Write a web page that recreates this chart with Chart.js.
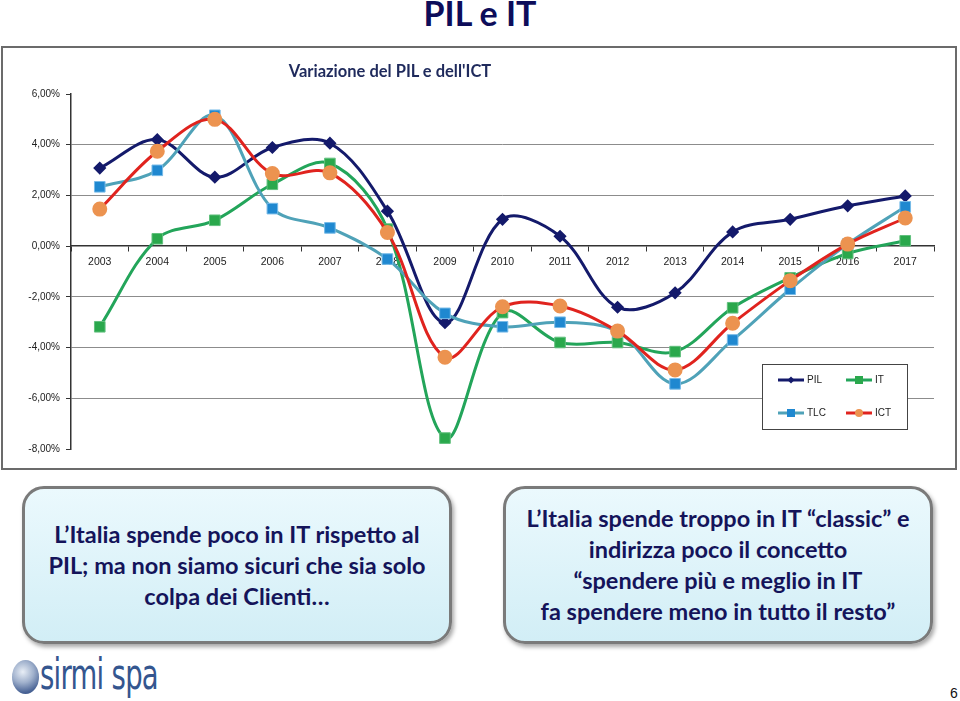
<!DOCTYPE html>
<html>
<head>
<meta charset="utf-8">
<script src="https://cdn.jsdelivr.net/npm/chart.js@4"></script>
<style>
  body { margin: 0; width: 960px; height: 701px; background: #fff; overflow: hidden; position: relative; }
  #pageTitle { position: absolute; left: 0; top: -4px; width: 960px; text-align: center;
    font: bold 34px Lato, sans-serif; line-height: 34px; color: #0d0d5a; }
  #frame { position: absolute; left: 1px; top: 46px; width: 956px; height: 424px; box-sizing: border-box;
    border: 2px solid #6b6b6b; }
  #chartWrap { position: absolute; left: 0; top: 46px; width: 958px; height: 424px; }
  #chartTitle { position: absolute; left: 0; top: 61px; width: 780px; text-align: center;
    font: bold 16.5px Lato, sans-serif; color: #1f2a5c; }
  .box { position: absolute; top: 486px; width: 430px; height: 158px; box-sizing: border-box;
    border: 3px solid #7a7a7a; border-radius: 22px;
    background: linear-gradient(#ebf9fd, #d2eef6);
    box-shadow: 2px 3px 4px rgba(0,0,0,.35);
    display: flex; align-items: center; justify-content: center; text-align: center;
    font: bold 23.5px Lato, sans-serif; line-height: 31px; color: #14145a; white-space: nowrap; }
  #logoIcon { position: absolute; left: 12px; top: 660px; width: 27px; height: 34px; border-radius: 50%;
    background: radial-gradient(circle at 40% 35%, #e8eef6 0%, #9fb0cc 40%, #4a6496 75%, #2f4a7e 100%); }
  #logoText { position: absolute; left: 40px; top: 650px; font: 42px 'Liberation Sans Narrow', 'DejaVu Sans Condensed', sans-serif;
    color: #34568f; transform-origin: 0 0; white-space: nowrap; letter-spacing: -1px; }
  #pageNum { position: absolute; left: 950px; top: 685px; font: 14px 'Liberation Sans', sans-serif; color: #111; }
</style>
</head>
<body>
<div id="pageTitle">PIL e IT</div>
<div id="frame"></div>
<div id="chartWrap"><canvas id="myChart"></canvas></div>
<div id="chartTitle">Variazione del PIL e dell'ICT</div>

<div class="box" style="left:22px">
  <div>L’Italia spende poco in IT rispetto al<br>PIL; ma non siamo sicuri che sia solo<br>colpa dei Clienti…</div>
</div>
<div class="box" style="left:503px">
  <div>L’Italia spende troppo in IT “classic” e<br>indirizza poco il concetto<br>“spendere più e meglio in IT<br>fa spendere meno in tutto il resto”</div>
</div>

<div id="logoIcon"></div>
<div id="logoText">sirmi spa</div>
<div id="pageNum">6</div>

<script>
// data (percent change per year)
const years = ['2003','2004','2005','2006','2007','2008','2009','2010','2011','2012','2013','2014','2015','2016','2017'];
const pil = [3.08, 4.2, 2.72, 3.89, 4.06, 1.38, -3.02, 1.06, 0.39, -2.41, -1.84, 0.56, 1.06, 1.59, 1.98];
const it  = [-3.18, 0.29, 1.02, 2.44, 3.26, 0.67, -7.57, -2.62, -3.8, -3.8, -4.16, -2.43, -1.25, -0.29, 0.21];
const tlc = [2.34, 2.99, 5.16, 1.48, 0.72, -0.51, -2.65, -3.18, -3.0, -3.37, -5.43, -3.7, -1.7, 0.08, 1.55];
const ict = [1.46, 3.74, 5.0, 2.86, 2.89, 0.54, -4.38, -2.39, -2.36, -3.35, -4.88, -3.04, -1.36, 0.08, 1.11];

const yMin = -8, yMax = 6, yStep = 2;

// fit logo text width
const lt = document.getElementById('logoText');
lt.style.transform = 'scaleX(' + (118 / lt.getBoundingClientRect().width) + ')';

// legend drawn inside the plot, 2x2 like the original
const boxLegend = {
  id: 'boxLegend',
  afterDraw(chart) {
    const ctx = chart.ctx;
    const x0 = 762, y0 = 318, w = 145, h = 65;
    ctx.save();
    ctx.fillStyle = '#fff';
    ctx.fillRect(x0, y0, w, h);
    ctx.strokeStyle = '#444';
    ctx.lineWidth = 1;
    ctx.strokeRect(x0 + 0.5, y0 + 0.5, w, h);
    const slots = [[x0 + 16, y0 + 16], [x0 + 84, y0 + 16], [x0 + 16, y0 + 49], [x0 + 84, y0 + 49]];
    chart.data.datasets.forEach((ds, i) => {
      const [sx, sy] = slots[i];
      ctx.strokeStyle = ds.borderColor;
      ctx.lineWidth = 3;
      ctx.beginPath();
      ctx.moveTo(sx, sy);
      ctx.lineTo(sx + 26, sy);
      ctx.stroke();
      const cx = sx + 13;
      ctx.fillStyle = ds.pointBackgroundColor;
      ctx.beginPath();
      if (ds.pointStyle === 'rectRot') {
        ctx.moveTo(cx, sy - 3.5); ctx.lineTo(cx + 3.5, sy); ctx.lineTo(cx, sy + 3.5); ctx.lineTo(cx - 3.5, sy);
        ctx.closePath();
      } else if (ds.pointStyle === 'circle') {
        ctx.arc(cx, sy, 4, 0, Math.PI * 2);
      } else {
        ctx.rect(cx - 4, sy - 4, 8, 8);
      }
      ctx.fill();
      ctx.fillStyle = '#222';
      ctx.font = '10px "Liberation Sans", sans-serif';
      ctx.textBaseline = 'middle';
      ctx.fillText(ds.label, sx + 29, sy + 0.5);
    });
    ctx.restore();
  }
};

const data = {
  labels: years,
  datasets: [
    { label: 'PIL', data: pil, order: 4,
      borderColor: '#141a6b', borderWidth: 3,
      pointStyle: 'rectRot', pointRadius: 4.5,
      pointBackgroundColor: '#141a6b', pointBorderColor: '#141a6b' },
    { label: 'IT', data: it, order: 3,
      borderColor: '#23a55a', borderWidth: 3,
      pointStyle: 'rect', pointRadius: 7.5,
      pointBackgroundColor: '#2aa84c', pointBorderColor: '#62c07e', pointBorderWidth: 1 },
    { label: 'TLC', data: tlc, order: 2,
      borderColor: '#4fa2b8', borderWidth: 3,
      pointStyle: 'rect', pointRadius: 7.5,
      pointBackgroundColor: '#1f88d0', pointBorderColor: '#77bbe8', pointBorderWidth: 1 },
    { label: 'ICT', data: ict, order: 1,
      borderColor: '#e0231e', borderWidth: 3,
      pointStyle: 'circle', pointRadius: 6,
      pointBackgroundColor: '#ec9350', pointBorderColor: '#ec9350' }
  ]
};

const config = {
  type: 'line',
  data: data,
  options: {
    responsive: true,
    maintainAspectRatio: false,
    animation: false,
    layout: { padding: { top: 48, bottom: 21, right: 24, left: 0 } },
    elements: { line: { tension: 0.35 } },
    plugins: { legend: { display: false }, tooltip: { enabled: false } },
    scales: {
      x: {
        position: { y: 0 },
        offset: true,
        border: { display: true, color: '#333', width: 1.5 },
        grid: { drawOnChartArea: false, drawTicks: true, tickLength: 5, offset: true, color: '#333' },
        ticks: { color: '#222', padding: 5, font: { family: 'Liberation Sans', size: 10.5 } }
      },
      y: {
        min: yMin, max: yMax,
        afterFit: s => { s.width = 71; },
        border: { display: true, color: '#333', width: 1.5 },
        grid: {
          tickLength: 5, tickColor: '#333', lineWidth: 1,
          color: c => (c.tick.value === yMin || c.tick.value === yMax || c.tick.value === 0) ? 'rgba(0,0,0,0)' : '#8c8c8c'
        },
        ticks: {
          stepSize: yStep, color: '#222', padding: 6,
          font: { family: 'Liberation Sans', size: 10 },
          callback: v => v.toFixed(2).replace('.', ',') + '%'
        }
      }
    }
  },
  plugins: [boxLegend]
};

const myChart = new Chart(document.getElementById('myChart'), config);
</script>
</body>
</html>
